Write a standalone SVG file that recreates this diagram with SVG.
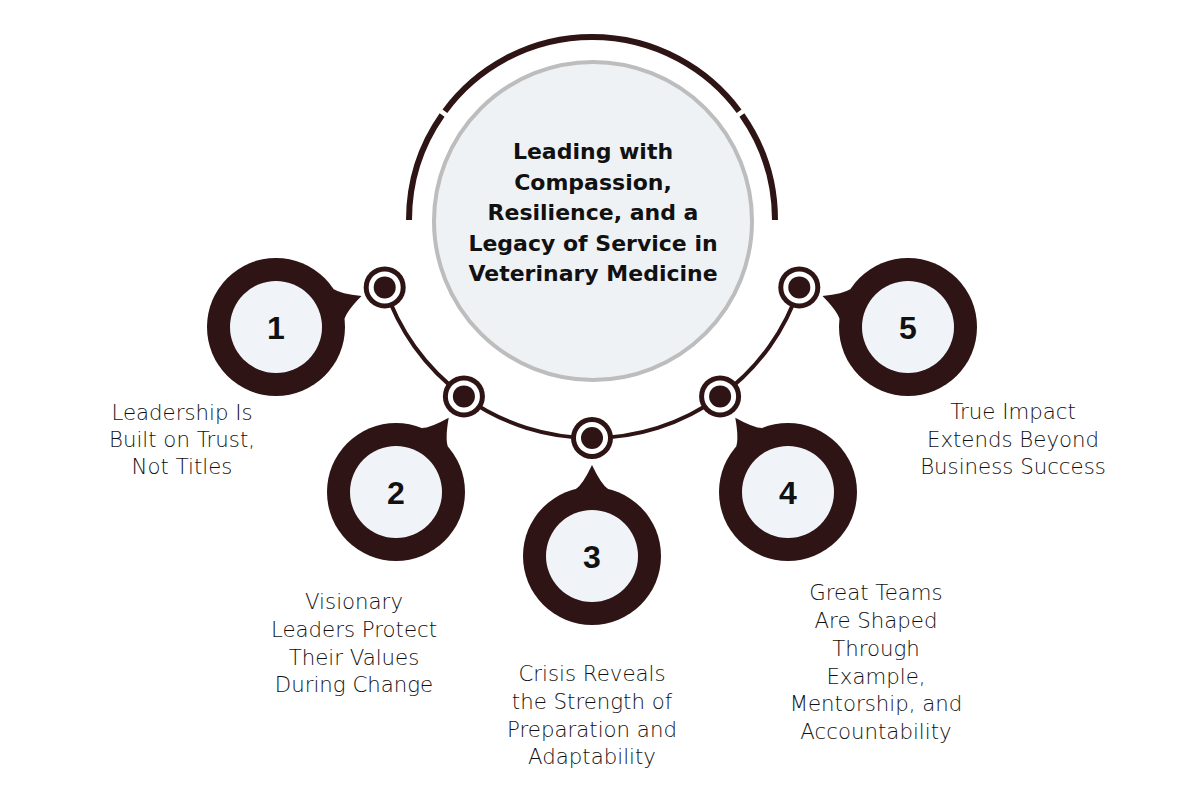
<svg xmlns="http://www.w3.org/2000/svg" width="1200" height="800" viewBox="0 0 1200 800">
<defs>
<style>
.dark{fill:#2e1414}
.light{fill:#f0f4f8}
.arc{fill:none;stroke:#2e1414;stroke-width:6}
.conn{fill:none;stroke:#2e1414;stroke-width:4}
.num{font-family:"Liberation Sans",Arial,sans-serif;font-weight:bold;font-size:32px;fill:#111;text-anchor:middle}
.lbl{font-family:"DejaVu Sans","Liberation Sans",sans-serif;font-weight:300;font-size:21.3px;fill:#111;text-anchor:middle}
.title{font-family:"DejaVu Sans","Liberation Sans",sans-serif;font-weight:bold;font-size:22px;fill:#111;text-anchor:middle}
</style>
<g id="dot">
<circle r="21" class="dark"/>
<circle r="16" fill="#fff"/>
<circle r="11" class="dark"/>
</g>
<path id="tail" d="M -16,-67 Q -9,-72 0,-91 Q 9,-72 16,-67 Z" class="dark"/>
</defs>
<rect width="1200" height="800" fill="#fff"/>

<g id="center">
<path class="arc" d="M 409 220 A 183 183 0 0 1 442.1 115"/>
<path class="arc" d="M 444.9 111.2 A 183 183 0 0 1 739.1 111.2"/>
<path class="arc" d="M 741.9 115 A 183 183 0 0 1 775 220"/>
<circle cx="593" cy="221" r="159" fill="#eef2f5" stroke="#bdbdbd" stroke-width="4"/>
<text class="title" x="593" y="159">Leading with</text>
<text class="title" x="593" y="189.5">Compassion,</text>
<text class="title" x="593" y="220">Resilience, and a</text>
<text class="title" x="593" y="250.5">Legacy of Service in</text>
<text class="title" x="593" y="281">Veterinary Medicine</text>
</g>

<g id="connectors">
<path class="conn" d="M 384.7 287.4 A 218 218 0 0 0 799.3 287.4"/>
<use href="#dot" x="384.7" y="287.4"/>
<use href="#dot" x="463.9" y="396.4"/>
<use href="#dot" x="592" y="438"/>
<use href="#dot" x="720.1" y="396.4"/>
<use href="#dot" x="799.3" y="287.4"/>
</g>

<g id="node1" transform="translate(276,327)">
<use href="#tail" transform="rotate(70)"/>
<circle r="69" class="dark"/>
<circle r="46" class="light"/>
<text class="num" y="11.5">1</text>
</g>
<g id="node2" transform="translate(396,492)">
<use href="#tail" transform="rotate(35.4)"/>
<circle r="69" class="dark"/>
<circle r="46" class="light"/>
<text class="num" y="11.5">2</text>
</g>
<g id="node3" transform="translate(592,556)">
<use href="#tail"/>
<circle r="69" class="dark"/>
<circle r="46" class="light"/>
<text class="num" y="11.5">3</text>
</g>
<g id="node4" transform="translate(788,492)">
<use href="#tail" transform="rotate(-35.4)"/>
<circle r="69" class="dark"/>
<circle r="46" class="light"/>
<text class="num" y="11.5">4</text>
</g>
<g id="node5" transform="translate(908,327)">
<use href="#tail" transform="rotate(-70)"/>
<circle r="69" class="dark"/>
<circle r="46" class="light"/>
<text class="num" y="11.5">5</text>
</g>

<g id="label1">
<text class="lbl" x="182" y="420">Leadership Is</text>
<text class="lbl" x="182" y="447">Built on Trust,</text>
<text class="lbl" x="182" y="474">Not Titles</text>
</g>
<g id="label2">
<text class="lbl" x="354" y="609">Visionary</text>
<text class="lbl" x="354" y="637">Leaders Protect</text>
<text class="lbl" x="354" y="665">Their Values</text>
<text class="lbl" x="354" y="692">During Change</text>
</g>
<g id="label3">
<text class="lbl" x="592" y="681">Crisis Reveals</text>
<text class="lbl" x="592" y="709">the Strength of</text>
<text class="lbl" x="592" y="737">Preparation and</text>
<text class="lbl" x="592" y="764">Adaptability</text>
</g>
<g id="label4">
<text class="lbl" x="876" y="600">Great Teams</text>
<text class="lbl" x="876" y="628">Are Shaped</text>
<text class="lbl" x="876" y="656">Through</text>
<text class="lbl" x="876" y="684">Example,</text>
<text class="lbl" x="876" y="711">Mentorship, and</text>
<text class="lbl" x="876" y="739">Accountability</text>
</g>
<g id="label5">
<text class="lbl" x="1013" y="419">True Impact</text>
<text class="lbl" x="1013" y="447">Extends Beyond</text>
<text class="lbl" x="1013" y="474">Business Success</text>
</g>
</svg>
